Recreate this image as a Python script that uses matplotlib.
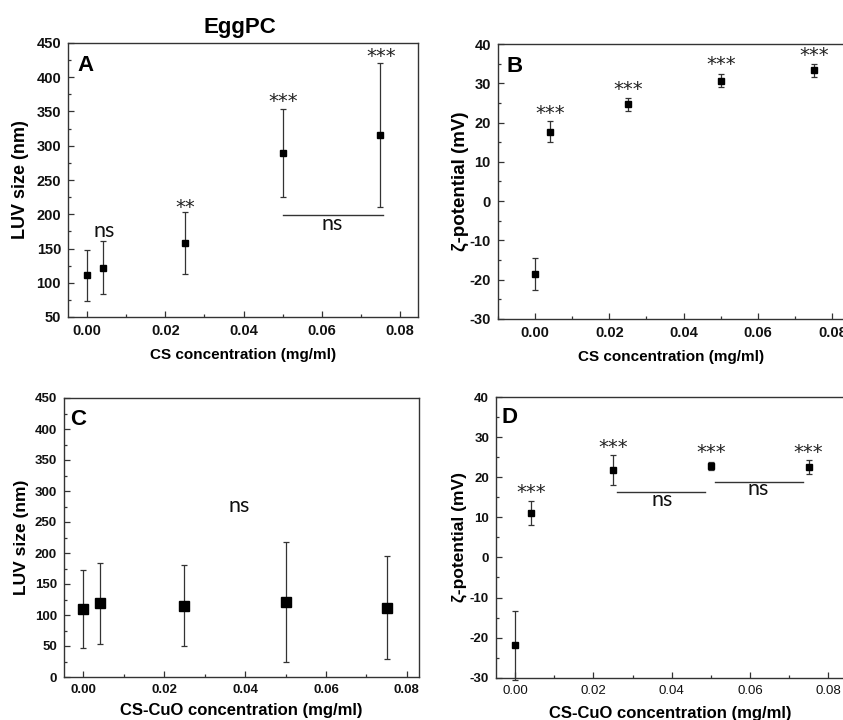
import matplotlib
matplotlib.use("Agg")
import matplotlib.pyplot as plt
from matplotlib.ticker import MultipleLocator

# ---------------- data ----------------
conc = [0.0, 0.004, 0.025, 0.05, 0.075]

size_cs = [111, 122, 158, 289, 316]
size_cs_err = [37, 39, 45, 64, 105]

zeta_cs = [-18.5, 17.7, 24.6, 30.7, 33.3]
zeta_cs_err = [4.0, 2.7, 1.6, 1.7, 1.6]

size_cscuo = [110, 119, 115, 121, 112]
size_cscuo_err = [63, 65, 65, 96, 83]

zeta_cscuo = [-21.9, 11.1, 21.8, 22.8, 22.6]
zeta_cscuo_err = [8.6, 2.9, 3.7, 1.1, 1.7]

xlab_a = "CS concentration (mg/ml)"
xlab_c = "CS-CuO concentration (mg/ml)"
ylab_size = "LUV size (nm)"
ylab_zeta = "ζ-potential (mV)"

W, H = 843, 720
fig = plt.figure(figsize=(W / 100, H / 100), dpi=100)

BOLD = ["Liberation Sans", "DejaVu Sans"]
NS = ["Lato", "DejaVu Sans"]
EC = "#333333"


def make_ax(px_left, px_right, px_top, px_bottom):
    return fig.add_axes([px_left / W, 1 - px_bottom / H,
                         (px_right - px_left) / W, (px_bottom - px_top) / H])


def style(ax, xlim, ylim, ymaj, ymin, tick_fs, xtick_bold=True):
    ax.set_xlim(*xlim)
    ax.set_ylim(*ylim)
    ax.xaxis.set_major_locator(MultipleLocator(0.02))
    ax.xaxis.set_minor_locator(MultipleLocator(0.01))
    ax.yaxis.set_major_locator(MultipleLocator(ymaj))
    ax.yaxis.set_minor_locator(MultipleLocator(ymin))
    ax.tick_params(which="both", direction="in", top=False, right=False,
                   colors=EC, width=0.9)
    ax.tick_params(which="major", length=4, pad=5)
    ax.tick_params(which="minor", length=2.5)
    ax.xaxis.set_major_formatter(plt.FuncFormatter(lambda v, p: f"{v:.2f}"))
    ax.yaxis.set_major_formatter(plt.FuncFormatter(lambda v, p: f"{v:.0f}"))
    for lbl in ax.get_yticklabels():
        lbl.set_fontfamily(BOLD)
        lbl.set_fontweight("bold")
        lbl.set_fontsize(tick_fs)
        lbl.set_color("#111111")
    for lbl in ax.get_xticklabels():
        lbl.set_fontfamily(BOLD)
        lbl.set_fontweight("bold" if xtick_bold else "normal")
        lbl.set_fontsize(tick_fs)
        lbl.set_color("#111111")
    for s in ax.spines.values():
        s.set_color(EC)
        s.set_linewidth(1.0)


def data_points(ax, y, err, ms):
    ax.errorbar(conc, y, yerr=err, fmt="s", color="black", ms=ms,
                ecolor=EC, elinewidth=0.9, capsize=2.5, capthick=0.9,
                clip_on=False, zorder=3)


def stars(ax, x, y, txt, fs=14):
    ax.text(x, y, txt, ha="center", va="center", fontsize=fs,
            family=["DejaVu Sans"], color="#222222")


def ns(ax, x, y, fs=15.5):
    ax.text(x, y, "ns", ha="center", va="center", fontsize=fs,
            family=NS, color="#111111")


# ---------------- A ----------------
axA = make_ax(68, 418, 43, 317)
data_points(axA, size_cs, size_cs_err, 4.5)
style(axA, (-0.0049, 0.0846), (50, 450), 50, 25, 10.5)
axA.set_ylabel(ylab_size, fontsize=13, fontweight="bold", family=BOLD, labelpad=5)
axA.set_xlabel(xlab_a, fontsize=11, fontweight="bold", family=BOLD, labelpad=7)
axA.text(0.026, 0.955, "A", transform=axA.transAxes, fontsize=16,
         fontweight="bold", family=BOLD, va="top", ha="left")
ns(axA, 0.0043, 176)
stars(axA, 0.025, 210, "**")
stars(axA, 0.0502, 364, "***")
stars(axA, 0.0752, 430, "***")
axA.plot([0.05, 0.0756], [199.5, 199.5], color="#333333", lw=1.0)
ns(axA, 0.0626, 186)

fig.text(240 / W, 1 - 27 / H, "EggPC", ha="center", va="center",
         fontsize=16, fontweight="bold", family=BOLD)

# ---------------- B ----------------
axB = make_ax(497.7, 845, 44, 319)
data_points(axB, zeta_cs, zeta_cs_err, 4.5)
style(axB, (-0.01, 0.0834), (-30, 40), 10, 5, 10.5)
axB.set_ylabel(ylab_zeta, fontsize=13.5, fontweight="bold", family=BOLD, labelpad=0)
axB.set_xlabel(xlab_a, fontsize=11, fontweight="bold", family=BOLD, labelpad=7)
axB.text(0.026, 0.955, "B", transform=axB.transAxes, fontsize=16,
         fontweight="bold", family=BOLD, va="top", ha="left")
stars(axB, 0.004, 22.4, "***")
stars(axB, 0.025, 28.3, "***")
stars(axB, 0.05, 34.7, "***")
stars(axB, 0.075, 37.1, "***")

# ---------------- C ----------------
axC = make_ax(64, 419, 398, 677)
data_points(axC, size_cscuo, size_cscuo_err, 6.5)
style(axC, (-0.0048, 0.083), (0, 450), 50, 25, 9.5)
axC.set_ylabel(ylab_size, fontsize=12.5, fontweight="bold", family=BOLD, labelpad=4)
axC.set_xlabel(xlab_c, fontsize=12, fontweight="bold", family=BOLD, labelpad=5)
axC.text(0.017, 0.96, "C", transform=axC.transAxes, fontsize=16,
         fontweight="bold", family=BOLD, va="top", ha="left")
ns(axC, 0.0385, 276)

# ---------------- D ----------------
axD = make_ax(496, 845, 397, 677.7)
data_points(axD, zeta_cscuo, zeta_cscuo_err, 5)
style(axD, (-0.0049, 0.0843), (-30, 40), 10, 5, 9.5, xtick_bold=False)
axD.set_ylabel(ylab_zeta, fontsize=12.5, fontweight="bold", family=BOLD, labelpad=2)
axD.set_xlabel(xlab_c, fontsize=12, fontweight="bold", family=BOLD, labelpad=7)
axD.text(0.017, 0.965, "D", transform=axD.transAxes, fontsize=16,
         fontweight="bold", family=BOLD, va="top", ha="left")
stars(axD, 0.004, 16.2, "***")
stars(axD, 0.025, 27.5, "***")
stars(axD, 0.05, 26.2, "***")
stars(axD, 0.075, 26.2, "***")
axD.plot([0.0261, 0.0485], [16.3, 16.3], color="#333333", lw=1.0)
ns(axD, 0.0375, 14.4)
axD.plot([0.051, 0.0735], [18.9, 18.9], color="#333333", lw=1.0)
ns(axD, 0.0622, 17.0)

fig.savefig("out.png", dpi=100)
